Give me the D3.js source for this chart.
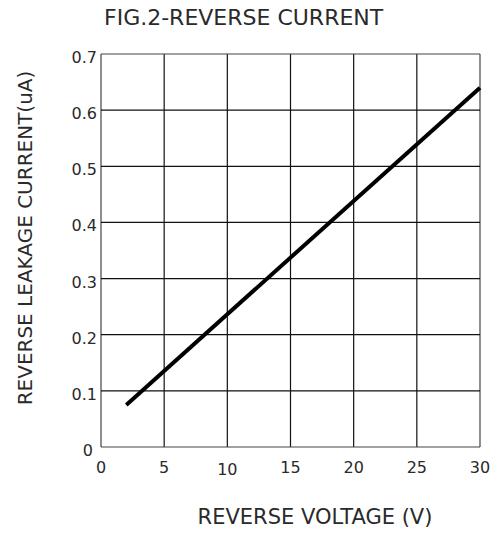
<!DOCTYPE html>
<html>
<head>
<meta charset="utf-8">
<script src="https://cdn.jsdelivr.net/npm/d3@7"></script>
<style>
  body { margin: 0; background: #fff; }
  text { font-family: "DejaVu Sans", sans-serif; fill: #2a2a2a; }
</style>
</head>
<body>
<svg width="500" height="535"></svg>
<script>
const voltage = [2, 30];
const current = [0.075, 0.64];
const xTicks  = [0, 5, 10, 15, 20, 25, 30];
const yTicks  = [0, 0.1, 0.2, 0.3, 0.4, 0.5, 0.6, 0.7];

const svg = d3.select("svg");
const margin = { left: 101, right: 20, top: 54, bottom: 88 };
const width  = 500 - margin.left - margin.right;
const height = 535 - margin.top - margin.bottom;

const x = d3.scaleLinear().domain([0, 30]).range([0, width]);
const y = d3.scaleLinear().domain([0, 0.7]).range([height, 0]);

const g = svg.append("g")
    .attr("transform", "translate(" + margin.left + "," + margin.top + ")");

// grid, outer frame a bit lighter
g.append("g")
    .selectAll("line")
    .data(xTicks)
    .enter().append("line")
        .attr("x1", d => x(d)).attr("x2", d => x(d))
        .attr("y1", 0).attr("y2", height)
        .attr("stroke", (d, i) => i === 0 || i === xTicks.length - 1 ? "#444" : "#111")
        .attr("stroke-width", 1.2);

g.append("g")
    .selectAll("line")
    .data(yTicks)
    .enter().append("line")
        .attr("x1", 0).attr("x2", width)
        .attr("y1", d => y(d)).attr("y2", d => y(d))
        .attr("stroke", (d, i) => i === 0 || i === yTicks.length - 1 ? "#444" : "#111")
        .attr("stroke-width", 1.2);

// tick labels
g.append("g")
    .selectAll("text")
    .data(yTicks)
    .enter().append("text")
        .attr("x", d => d === 0 ? -8 : -4)
        .attr("y", d => y(d) + 9)
        .attr("text-anchor", "end")
        .attr("font-size", 16)
        .text(d => d === 0 ? "0" : d3.format(".1f")(d));

g.append("g")
    .selectAll("text")
    .data(xTicks)
    .enter().append("text")
        .attr("x", d => x(d))
        .attr("y", d => height + (d === 10 ? 28 : 26))
        .attr("text-anchor", "middle")
        .attr("font-size", 16)
        .text(d => d);

// curve
const line = d3.line()
    .x((d, i) => x(voltage[i]))
    .y((d, i) => y(current[i]));

g.append("path")
    .datum(voltage)
    .attr("d", line)
    .attr("fill", "none")
    .attr("stroke", "#000")
    .attr("stroke-width", 4);

// titles
svg.append("text")
    .attr("x", 104).attr("y", 25)
    .attr("font-size", 22)
    .text("FIG.2-REVERSE CURRENT");

svg.append("text")
    .attr("x", 315).attr("y", 524)
    .attr("text-anchor", "middle")
    .attr("font-size", 21)
    .text("REVERSE VOLTAGE (V)");

svg.append("text")
    .attr("transform", "translate(32,238) rotate(-90)")
    .attr("text-anchor", "middle")
    .attr("font-size", 20)
    .text("REVERSE LEAKAGE CURRENT(uA)");
</script>
</body>
</html>
